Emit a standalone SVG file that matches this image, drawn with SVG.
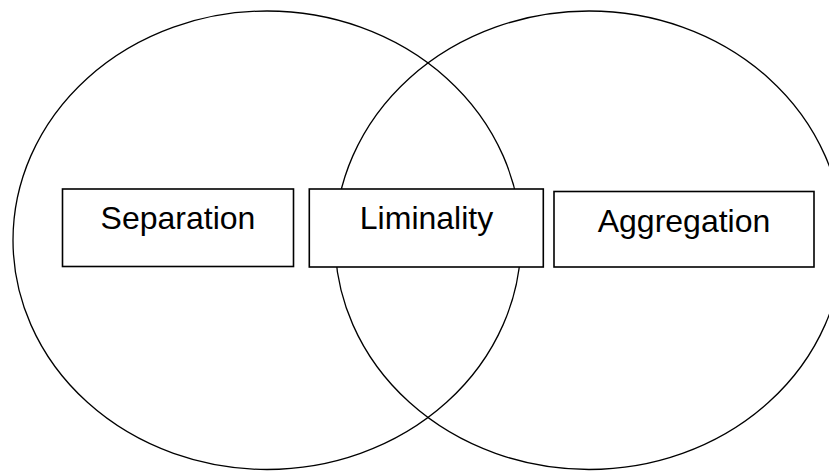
<svg xmlns="http://www.w3.org/2000/svg" width="829" height="471" viewBox="0 0 829 471">
<style>
.circ{fill:none;stroke:#000;stroke-width:1.3}
.box{stroke:#000;stroke-width:1.6}
.lbl{font-family:"Liberation Sans",Arial,sans-serif;font-size:32px;fill:#000;text-anchor:middle}
</style>
<rect x="0" y="0" width="829" height="471" fill="#ffffff"/>
<g id="circles">
<ellipse id="circle-left" class="circ" cx="267" cy="240.25" rx="254" ry="229.25"/>
<ellipse id="circle-right" class="circ" cx="589" cy="240.25" rx="254" ry="229.25"/>
</g>
<g id="connectors"></g>
<g id="node-separation">
<rect class="box" fill="#ffffff" x="62.5" y="189" width="231" height="77.5"/>
<text class="lbl" x="178" y="228.5">Separation</text>
</g>
<g id="node-liminality">
<rect class="box" fill="#ffffff" x="309.3" y="189" width="234" height="78"/>
<text class="lbl" x="426.5" y="229.3">Liminality</text>
</g>
<g id="node-aggregation">
<rect class="box" fill="#ffffff" x="554" y="191.5" width="260" height="75.5"/>
<text class="lbl" x="684" y="232.3">Aggregation</text>
</g>
</svg>
